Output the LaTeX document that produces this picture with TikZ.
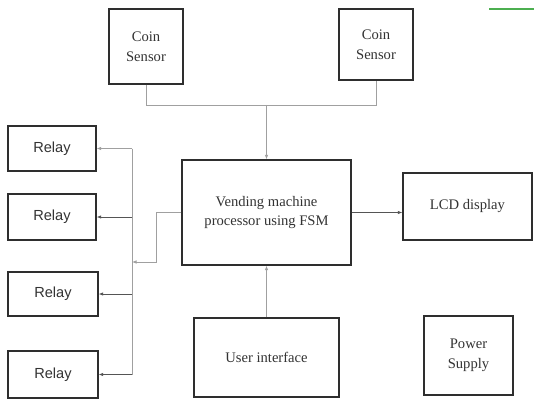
\documentclass[tikz,border=0pt]{standalone}
\usepackage{fontspec}
\setmainfont{Liberation Serif}
\setsansfont{Liberation Sans}
\usetikzlibrary{arrows.meta}
\definecolor{boxc}{HTML}{2E2E2E}
\definecolor{txtc}{HTML}{333333}
\definecolor{lightw}{HTML}{A0A0A0}
\definecolor{darkw}{HTML}{555555}
\definecolor{greenl}{HTML}{4CAF50}
\begin{document}
\begin{tikzpicture}[x=1pt,y=-1pt,
  blk/.style={draw=boxc, line width=1.4pt, inner sep=0pt, align=center, text=txtc,
    font=\fontsize{14.6}{19.5}\selectfont},
  relaybox/.style={blk, font=\sffamily\fontsize{14.6}{19.5}\selectfont},
  wire/.style={draw=darkw, line width=0.7pt},
  lwire/.style={draw=lightw, line width=0.7pt},
  tip/.style={-{Latex[length=4.5pt,width=3.5pt]}}]
\useasboundingbox (0,0) rectangle (534,398);
\fill[white] (0,0) rectangle (534,398);
% nodes
\node[blk, minimum width=74pt, minimum height=75pt] (c1) at (146,46.5) {Coin\\Sensor};
\node[blk, minimum width=74pt, minimum height=71pt] (c2) at (376,44.5) {Coin\\Sensor};
\node[blk, minimum width=169pt, minimum height=105pt] (proc) at (266.5,212.5) {Vending machine\\processor using FSM};
\node[blk, minimum width=129pt, minimum height=67pt] (lcd) at (467.5,206.5) {LCD display};
\node[blk, minimum width=145pt, minimum height=79pt] (ui) at (266.5,357.5) {User interface};
\node[blk, minimum width=89pt, minimum height=79pt] (ps) at (468.5,355.5) {Power\\Supply};
\node[relaybox, minimum width=88pt, minimum height=45pt] (r1) at (52,148.5) {Relay};
\node[relaybox, minimum width=88pt, minimum height=46pt] (r2) at (52,217) {Relay};
\node[relaybox, minimum width=90pt, minimum height=44pt] (r3) at (53,294) {Relay};
\node[relaybox, minimum width=90pt, minimum height=47pt] (r4) at (53,374.5) {Relay};
% junction coordinates
\coordinate (j1) at (266.5,105);
\coordinate (bt) at (132,148.5);
\coordinate (bb) at (132,374.5);
\coordinate (bm) at (132,262);
% coin sensors to processor
\draw[lwire] (c1.south) -- (c1.south |- j1) -| (c2.south);
\draw[lwire, tip] (j1) -- (proc.north);
% processor to LCD
\draw[wire, tip] (proc.east) -- (proc.east -| lcd.west);
% user interface to processor
\draw[lwire, tip] (ui.north) -- (proc.south);
% processor to relay bus
\draw[lwire] (bt) -- (bb);
\draw[lwire, tip] (proc.west) -- ++(-25,0) |- (bm);
\draw[lwire, tip] (r1.east -| bt) -- (r1.east);
\draw[wire, tip] (r2.east -| bt) -- (r2.east);
\draw[wire, tip] (r3.east -| bt) -- (r3.east);
\draw[wire, tip] (r4.east -| bt) -- (r4.east);
% green mark at top right
\draw[greenl, line width=1.5pt] (489,9) -- (534,9);
\end{tikzpicture}
\end{document}
